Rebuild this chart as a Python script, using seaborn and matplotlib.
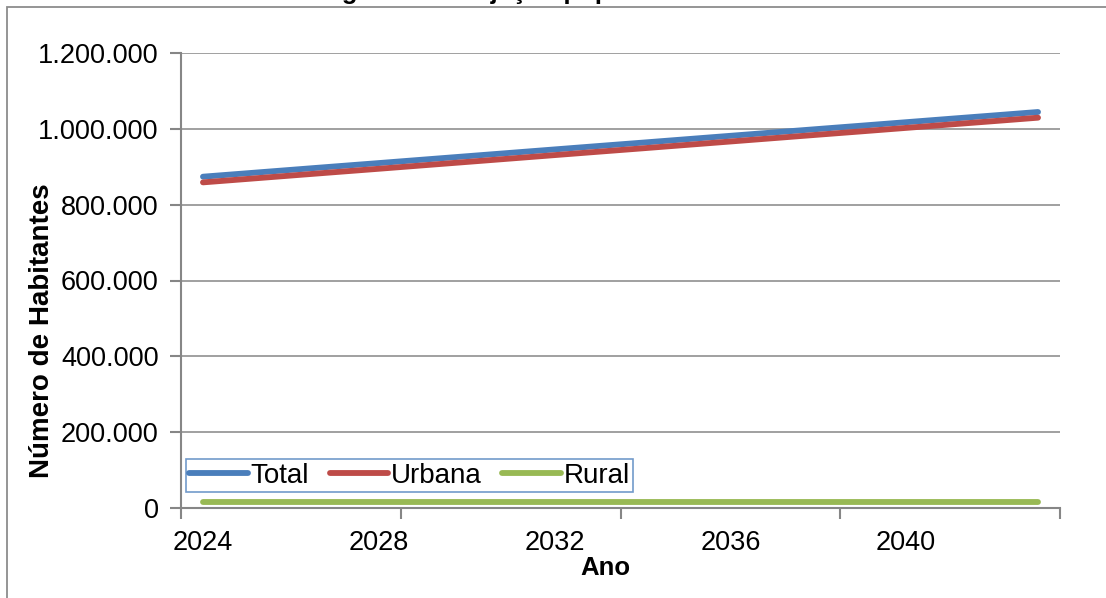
import matplotlib
matplotlib.use("Agg")
import matplotlib.pyplot as plt
import matplotlib.ticker as mticker
from matplotlib.patches import Rectangle
import seaborn as sns
import pandas as pd

years = [2024, 2025, 2026, 2027, 2028, 2029, 2030, 2031, 2032, 2033,
         2034, 2035, 2036, 2037, 2038, 2039, 2040, 2041, 2042, 2043]
total = [873800, 882800, 891800, 900800, 909700, 918700, 927700, 936700, 945700, 954700,
         963600, 972600, 981600, 990600, 999600, 1008500, 1017500, 1026500, 1035400, 1044400]
urbana = [858800, 867800, 876800, 885800, 894700, 903700, 912700, 921700, 930700, 939700,
          948600, 957600, 966600, 975600, 984600, 993500, 1002500, 1011500, 1020400, 1029400]
rural = [15000, 15000, 15000, 15000, 15000, 15000, 15000, 15000, 15000, 15000,
         15000, 15000, 15000, 15000, 15000, 15000, 15000, 15000, 15000, 15000]
series_names = ["Total", "Urbana", "Rural"]
y_ticks = [0, 200000, 400000, 600000, 800000, 1000000, 1200000]
x_label_years = [2024, 2028, 2032, 2036, 2040]
title_text = "Figura 1 – Projeção populacional"

sns.set_theme(style="white")
plt.rcParams["font.family"] = ["Liberation Sans", "DejaVu Sans"]
plt.rcParams["text.color"] = "black"
plt.rcParams["axes.labelcolor"] = "black"
plt.rcParams["xtick.color"] = "black"
plt.rcParams["ytick.color"] = "black"

W, H = 1106, 598
fig = plt.figure(figsize=(W / 100, H / 100), dpi=100)
ax = fig.add_axes([181 / W, 1 - 508 / H, (1060 - 181) / W, (508 - 53) / H])

rows = []
for name, vals in zip(series_names, [total, urbana, rural]):
    for i, (yr, v) in enumerate(zip(years, vals)):
        rows.append({"idx": i, "Ano": yr, "valor": v, "serie": name})
df = pd.DataFrame(rows)

LW = 4.2
palette = {"Total": "#4A7EBB", "Urbana": "#BE4B48", "Rural": "#98B954"}
sns.lineplot(data=df, x="idx", y="valor", hue="serie", hue_order=series_names,
             palette=palette, linewidth=LW, ax=ax, legend=True)
for ln in ax.lines:
    ln.set_solid_capstyle("round")

ax.set_xlim(-0.5, len(years) - 0.5)
ax.set_ylim(0, 1200000)
ax.set_yticks(y_ticks)
ax.yaxis.set_major_formatter(mticker.FuncFormatter(lambda v, p: f"{int(v):,}".replace(",", ".")))

major_pos = [years.index(y) for y in x_label_years]
ax.set_xticks(major_pos)
ax.set_xticklabels([str(y) for y in x_label_years])
ax.set_xticks([-0.5, 4.5, 9.5, 14.5, 19.5], minor=True)
ax.tick_params(axis="x", which="major", length=0, pad=16, labelsize=19.5, labelcolor="black")
ax.tick_params(axis="x", which="minor", length=8, width=1.5, color="#868686", direction="out", bottom=True)
ax.tick_params(axis="y", which="major", length=8, width=1.5, color="#868686", direction="out",
               left=True, pad=8, labelsize=19.5, labelcolor="black")

ax.grid(axis="y", color="#868686", linewidth=1.1)
ax.grid(axis="x", visible=False)
ax.set_axisbelow(True)
for s in ["top", "right"]:
    ax.spines[s].set_visible(False)
for s in ["left", "bottom"]:
    ax.spines[s].set_color("#868686")
    ax.spines[s].set_linewidth(1.5)

ax.set_xlabel("Ano", fontsize=18.5, fontweight="bold", color="black")
ax.set_ylabel("Número de Habitantes", fontsize=20, fontweight="bold", color="black")
ax.xaxis.set_label_coords((605 - 181) / (1060 - 181), -(568 - 508) / (508 - 53), transform=ax.transAxes)
ax.yaxis.set_label_coords(-(181 - 42) / (1060 - 181), (508 - 331) / (508 - 53))
ax.xaxis.label.set_va("center")
ax.yaxis.label.set_va("center")

leg = ax.legend(loc="lower left", bbox_to_anchor=(186 / W, 1 - 492 / H),
                bbox_transform=fig.transFigure, ncol=3, fontsize=20,
                frameon=True, fancybox=False, handlelength=2.1, handletextpad=0.1,
                columnspacing=0.75, borderpad=0.12, borderaxespad=0, title=None)
leg.get_frame().set_edgecolor("#4F81BD")
leg.get_frame().set_linewidth(1.2)
for h in leg.get_lines():
    h.set_linewidth(LW)
    h.set_solid_capstyle("round")
for t in leg.get_texts():
    t.set_color("black")

# outer chart border
fig.add_artist(Rectangle((7 / W, -0.2), 1.3, 1.2 - 7 / H, transform=fig.transFigure,
                         fill=False, edgecolor="#8C8C8C", linewidth=1.3))

# title mostly cut off above the image (as in the reference)
fig.text(319 / W, 1 + 0.5 / H, title_text, fontsize=18.5, fontweight="bold",
         ha="left", va="baseline", color="black")

fig.savefig("out.png", dpi=100)
